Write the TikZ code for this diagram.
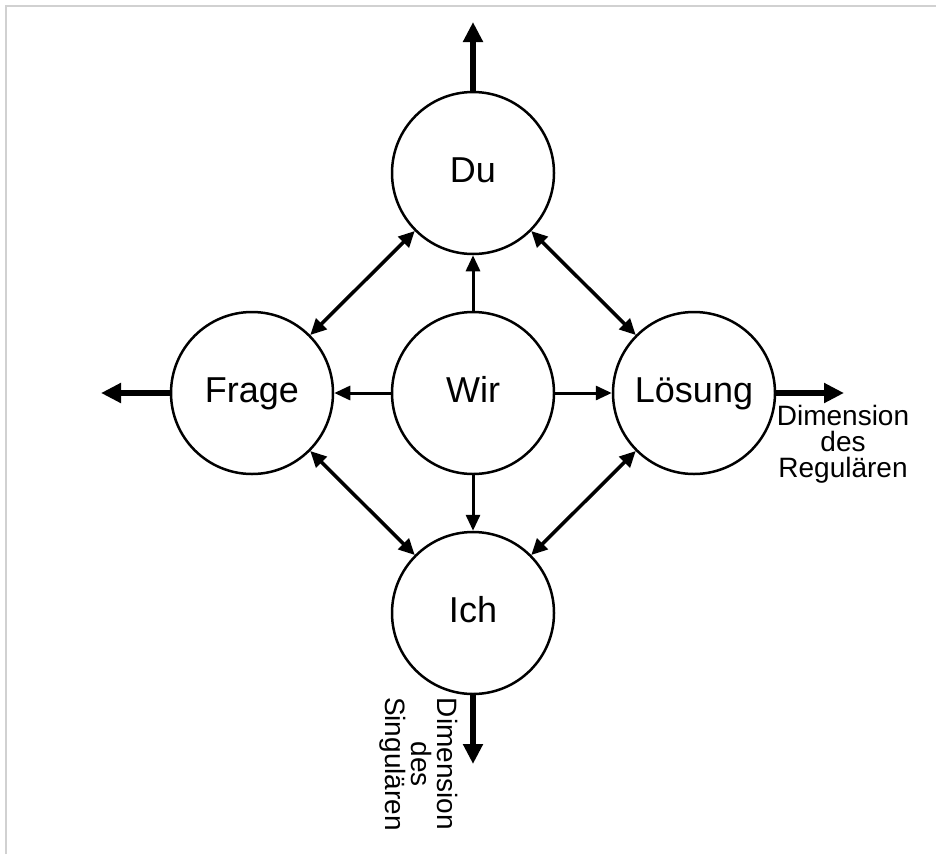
\documentclass[tikz,border=0pt]{standalone}
\usepackage{fontspec}
\setmainfont{Liberation Sans}
\usetikzlibrary{arrows.meta}
\begin{document}
\begin{tikzpicture}[x=1pt,y=-1pt,
  circ/.style={circle,draw,line width=2.5pt,minimum size=162pt,inner sep=0pt,text height=26pt,text depth=8pt,font=\fontsize{36}{40}\selectfont},
  outarrow/.style={line width=5.5pt,-{Triangle[length=20pt,width=19pt]}},
  inarrow/.style={line width=3pt,-{Triangle[length=16pt,width=14pt]}},
  diagarrow/.style={line width=3.5pt,{Triangle[length=16pt,width=15pt]}-{Triangle[length=16pt,width=15pt]}},
  dimlabel/.style={align=center,inner sep=0pt,font=\fontsize{28}{26}\selectfont},
  frame/.style={draw=black!18,line width=2pt}]
\useasboundingbox (0,0) rectangle (936,854);
\draw[frame] (6,854) -- (6,6) -- (936,6);
\node[circ] (wir) at (473,393) {Wir};
\node[circ] (du) at (473,173) {Du};
\node[circ] (ich) at (473,613) {Ich};
\node[circ] (frage) at (252,393) {Frage};
\node[circ] (loesung) at (694,393) {Lösung};
\coordinate (topend) at (473,22);
\coordinate (leftend) at (101,393);
\coordinate (rightend) at (844,393);
\coordinate (bottomend) at (473,764);
\draw[outarrow] (du) -- (topend);
\draw[outarrow] (frage) -- (leftend);
\draw[outarrow] (loesung) -- (rightend);
\draw[outarrow] (ich) -- (bottomend);
\draw[inarrow] (wir) -- (du);
\draw[inarrow] (wir) -- (ich);
\draw[inarrow] (wir) -- (frage);
\draw[inarrow] (wir) -- (loesung);
\draw[diagarrow] (frage) -- (du);
\draw[diagarrow] (du) -- (loesung);
\draw[diagarrow] (frage) -- (ich);
\draw[diagarrow] (loesung) -- (ich);
\node[dimlabel] (reglabel) at (843,444) {Dimension\\des\\Regulären};
\node[dimlabel,rotate=-90] (singlabel) at (419,764) {Dimension\\des\\Singulären};
\end{tikzpicture}
\end{document}
